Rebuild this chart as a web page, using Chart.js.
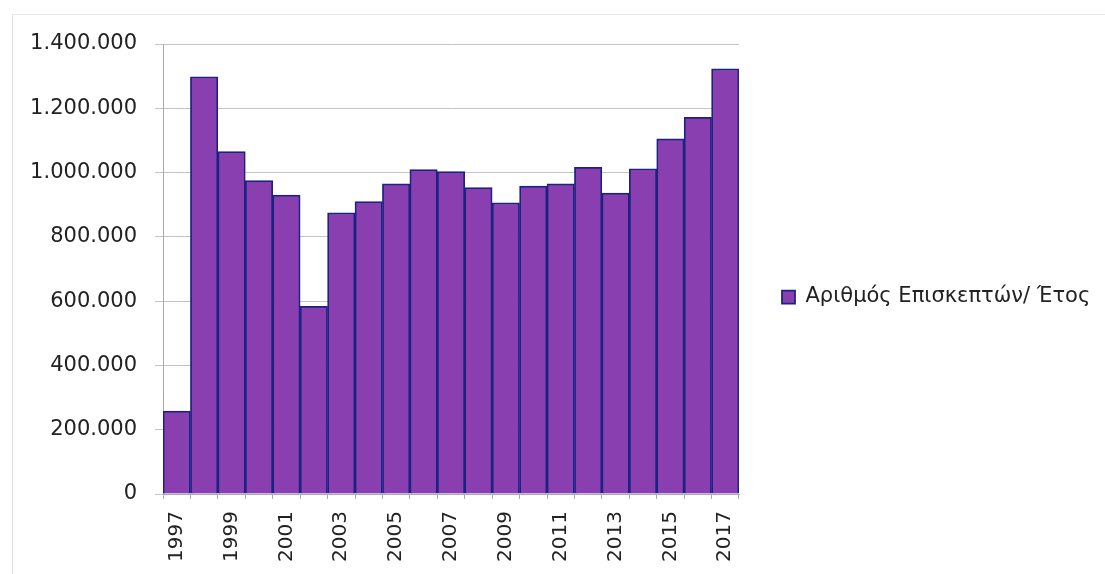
<!DOCTYPE html>
<html>
<head>
<meta charset="utf-8">
<script src="https://cdn.jsdelivr.net/npm/chart.js@4"></script>
<style>
    html, body { margin: 0; padding: 0; background: #fff; overflow: hidden; }
    #wrap { position: relative; width: 1105px; height: 574px; }
    #frame { position: absolute; left: 12px; top: 14px; width: 2000px; height: 2000px;
             border-left: 1px solid #e2e2e6; border-top: 1px solid #e6e6e6; pointer-events: none; }
</style>
</head>
<body>
<div id="wrap">
    <canvas id="chart" width="1105" height="574"></canvas>
    <div id="frame"></div>
</div>
<script>
const years = ['1997', '1998', '1999', '2000', '2001', '2002', '2003', '2004', '2005', '2006', '2007',
               '2008', '2009', '2010', '2011', '2012', '2013', '2014', '2015', '2016', '2017'];
const visitors = [258000, 1298000, 1065000, 975000, 930000, 584000, 875000, 910000, 965000, 1009000, 1003000,
                  953000, 906000, 958000, 965000, 1016000, 936000, 1012000, 1105000, 1172000, 1323000];
const seriesLabel = 'Αριθμός Επισκεπτών/ Έτος';
const yTicks = [0, 200000, 400000, 600000, 800000, 1000000, 1200000, 1400000];

const FONT = 'DejaVu Sans';

// 1400000 -> "1.400.000"
function formatDots(v) {
    return String(v).replace(/\B(?=(\d{3})+(?!\d))/g, '.');
}

// The right-hand legend is wider than Chart.js allows a side box to be,
// so stretch its box after layout (it is clipped to that box when drawn).
const legendBox = {
    id: 'legendBox',
    afterLayout(chart) {
        const lg = chart.legend;
        lg.left = chart.chartArea.right;
        lg.right = chart.width - 8;
        lg.width = lg.right - lg.left;
        lg.top = 44;
        lg.bottom = chart.height - 24;
        lg.height = lg.bottom - lg.top;
    }
};

new Chart(document.getElementById('chart'), {
    type: 'bar',
    data: {
        labels: years,
        datasets: [{
            label: seriesLabel,
            data: visitors,
            backgroundColor: '#8a3fb0',
            borderColor: '#1c2282',
            borderWidth: 1.75,
            borderSkipped: 'start',
            barPercentage: 1,
            categoryPercentage: 1
        }]
    },
    options: {
        responsive: false,
        animation: false,
        layout: { padding: { top: 44, bottom: 8, left: 0, right: 120 } },
        plugins: {
            tooltip: { enabled: false },
            legend: {
                position: 'right',
                maxWidth: 246,
                labels: {
                    font: { family: FONT, size: 21 },
                    color: '#222',
                    boxWidth: 13,
                    boxHeight: 13,
                    padding: 43
                }
            }
        },
        scales: {
            x: {
                grid: {
                    display: true,
                    drawOnChartArea: false,
                    drawTicks: true,
                    tickLength: 5,
                    color: '#a8a8b0'
                },
                border: { color: '#a8a8b0' },
                ticks: {
                    autoSkip: false,
                    minRotation: 90,
                    maxRotation: 90,
                    padding: 12,
                    color: '#222',
                    font: { family: FONT, size: 20 },
                    callback: function(value, index) {
                        return index % 2 === 0 ? years[index] : '';
                    }
                },
                afterFit: function(axis) { axis.height = 72; }
            },
            y: {
                min: 0,
                max: 1400000,
                afterBuildTicks: function(axis) {
                    axis.ticks = yTicks.map(v => ({ value: v }));
                },
                grid: {
                    color: '#c4c4c8',
                    tickLength: 8
                },
                border: { color: '#a8a8b0' },
                ticks: {
                    padding: 18,
                    color: '#222',
                    font: { family: FONT, size: 21 },
                    callback: v => formatDots(v)
                },
                afterFit: function(axis) { axis.width = 163; }
            }
        }
    },
    plugins: [legendBox]
});
</script>
</body>
</html>
